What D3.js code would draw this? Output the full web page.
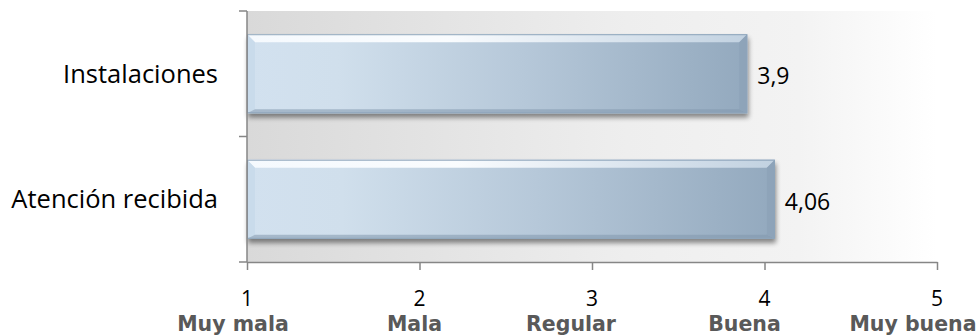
<!DOCTYPE html>
<html>
<head>
<meta charset="utf-8">
<script src="https://cdn.jsdelivr.net/npm/d3@7"></script>
<style>
  html, body { margin: 0; padding: 0; background: #fff; }
  svg { display: block; }
</style>
</head>
<body>
<svg id="chart" width="980" height="336"></svg>
<script>
// Satisfaction ratings on a 1–5 scale
const categories = ["Instalaciones", "Atención recibida"];
const values = [3.9, 4.06];
const valueLabels = ["3,9", "4,06"];
const tickValues = [1, 2, 3, 4, 5];
const tickNames = ["Muy mala", "Mala", "Regular", "Buena", "Muy buena"];

const W = 980, H = 336;
const margin = { top: 11, right: 43, bottom: 74, left: 247 };
// horizontal nudge of each rating name under its tick
const nameShift = [-14, -5, -21, -20, -24];

const svg = d3.select("#chart");
const defs = svg.append("defs");

const x = d3.scaleLinear().domain([1, 5]).range([margin.left, W - margin.right]);
const y = d3.scaleBand().domain(categories).range([margin.top, H - margin.bottom]).paddingInner(0.37).paddingOuter(0.185);

// plot-area background: grey on the left fading to white on the right
const bg = defs.append("linearGradient").attr("id", "bgGrad").attr("x1", 0).attr("x2", 1).attr("y1", 0).attr("y2", 0);
bg.append("stop").attr("offset", "0%").attr("stop-color", "#d9d9d9");
bg.append("stop").attr("offset", "55%").attr("stop-color", "#eeeeee");
bg.append("stop").attr("offset", "80%").attr("stop-color", "#f3f3f3");
bg.append("stop").attr("offset", "100%").attr("stop-color", "#ffffff");
svg.append("rect")
  .attr("x", x(1)).attr("y", margin.top)
  .attr("width", x(5) - x(1)).attr("height", H - margin.bottom - margin.top)
  .attr("fill", "url(#bgGrad)");

// bar fill gradient
const bar = defs.append("linearGradient").attr("id", "barGrad").attr("x1", 0).attr("x2", 1).attr("y1", 0).attr("y2", 0);
bar.append("stop").attr("offset", "0%").attr("stop-color", "#d2e1ef");
bar.append("stop").attr("offset", "18%").attr("stop-color", "#d0dfec");
bar.append("stop").attr("offset", "55%").attr("stop-color", "#b6c8d9");
bar.append("stop").attr("offset", "100%").attr("stop-color", "#93a9be");

const topGrad = defs.append("linearGradient").attr("id", "topGrad").attr("x1", 0).attr("x2", 1).attr("y1", 0).attr("y2", 0);
topGrad.append("stop").attr("offset", "0%").attr("stop-color", "#f6fafe");
topGrad.append("stop").attr("offset", "40%").attr("stop-color", "#fbfdff");
topGrad.append("stop").attr("offset", "100%").attr("stop-color", "#c3d3e2");

const shadow = defs.append("filter").attr("id", "shadow").attr("x", "-5%").attr("y", "-20%").attr("width", "110%").attr("height", "150%");
shadow.append("feGaussianBlur").attr("in", "SourceAlpha").attr("stdDeviation", 2.5);
shadow.append("feOffset").attr("dx", 1).attr("dy", 4).attr("result", "off");
shadow.append("feComponentTransfer").append("feFuncA").attr("type", "linear").attr("slope", 0.45);
const merge = shadow.append("feMerge");
merge.append("feMergeNode");
merge.append("feMergeNode").attr("in", "SourceGraphic");

const bevel = 8;
const bars = svg.append("g").selectAll("g").data(categories).join("g");
bars.each(function (c, i) {
  const g = d3.select(this);
  const x0 = x(1), x1 = x(values[i]);
  const y0 = y(c), y1 = y(c) + y.bandwidth();
  const body = g.append("g").attr("filter", "url(#shadow)");
  body.append("rect").attr("x", x0).attr("y", y0).attr("width", x1 - x0).attr("height", y1 - y0)
    .attr("fill", "url(#barGrad)");
  // top bevel
  body.append("polygon")
    .attr("points", [[x0, y0], [x1, y0], [x1 - bevel, y0 + bevel], [x0 + bevel, y0 + bevel]].join(" "))
    .attr("fill", "url(#topGrad)").attr("opacity", 0.97);
  // left bevel
  body.append("polygon")
    .attr("points", [[x0, y0], [x0 + bevel, y0 + bevel], [x0 + bevel, y1 - bevel / 2], [x0, y1]].join(" "))
    .attr("fill", "#c7d9ea").attr("opacity", 0.8);
  // bottom bevel
  body.append("polygon")
    .attr("points", [[x0, y1], [x0 + bevel, y1 - bevel / 2], [x1 - bevel, y1 - bevel / 2], [x1, y1]].join(" "))
    .attr("fill", "#8298ad").attr("opacity", 0.55);
  // right bevel
  body.append("polygon")
    .attr("points", [[x1, y0], [x1 - bevel, y0 + bevel], [x1 - bevel, y1 - bevel / 2], [x1, y1]].join(" "))
    .attr("fill", "#8ba1b6").attr("opacity", 0.7);
  body.append("rect").attr("x", x0 + 0.5).attr("y", y0 + 0.5).attr("width", x1 - x0 - 1).attr("height", y1 - y0 - 1)
    .attr("fill", "none").attr("stroke", "#8ea5bb").attr("stroke-width", 1);

  g.append("text")
    .attr("x", x1 + 10).attr("y", (y0 + y1) / 2 + 2)
    .attr("dy", "0.36em")
    .attr("font-family", "'Open Sans', sans-serif").attr("font-size", 23).attr("fill", "#000")
    .text(valueLabels[i]);
});

// y axis
const yAxis = svg.append("g").attr("transform", `translate(${x(1)},0)`);
yAxis.append("line").attr("x1", 0).attr("x2", 0).attr("y1", margin.top).attr("y2", H - margin.bottom)
  .attr("stroke", "#868686").attr("stroke-width", 1.5);
const yBounds = [margin.top, (margin.top + H - margin.bottom) / 2, H - margin.bottom];
yAxis.selectAll("line.tick").data(yBounds).join("line").attr("class", "tick")
  .attr("x1", -8).attr("x2", 0).attr("y1", d => d).attr("y2", d => d)
  .attr("stroke", "#868686").attr("stroke-width", 1.5);
svg.append("g").selectAll("text").data(categories).join("text")
  .attr("x", 218).attr("y", d => y(d) + y.bandwidth() / 2).attr("dy", "0.36em")
  .attr("text-anchor", "end")
  .attr("font-family", "'Open Sans', sans-serif").attr("font-size", 25.5).attr("fill", "#000")
  .text(d => d);

// x axis
const xAxis = svg.append("g").attr("transform", `translate(0,${H - margin.bottom})`)
  .call(d3.axisBottom(x).tickValues(tickValues).tickSize(8).tickSizeOuter(0).tickFormat(""));
xAxis.select(".domain").attr("stroke", "#868686").attr("stroke-width", 1.5);
xAxis.selectAll(".tick line").attr("stroke", "#868686").attr("stroke-width", 1.5);

const xl = svg.append("g").selectAll("g").data(tickValues).join("g")
  .attr("transform", d => `translate(${x(d)},0)`);
xl.append("text").attr("y", 306).attr("text-anchor", "middle")
  .attr("font-family", "'Open Sans', sans-serif").attr("font-size", 21).attr("fill", "#000")
  .text(d => d);
xl.append("text").attr("x", (d, i) => nameShift[i]).attr("y", 331).attr("text-anchor", "middle")
  .attr("font-family", "'DejaVu Sans', Verdana, sans-serif").attr("font-weight", "bold").attr("font-size", 20.5).attr("fill", "#595959")
  .text((d, i) => tickNames[i]);
</script>
</body>
</html>
